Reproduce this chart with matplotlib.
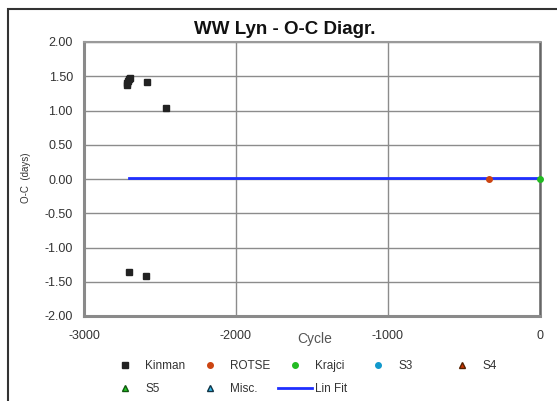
import numpy as np
import matplotlib.pyplot as plt
from matplotlib.patches import Rectangle

# =====================================================
# DATA
# =====================================================

kinman_x = [-2720, -2715, -2710, -2705, -2700, -2585, -2460, -2705, -2590]
kinman_y = [1.37, 1.40, 1.43, 1.46, 1.48, 1.42, 1.03, -1.36, -1.42]

rotse_x = [-333]
rotse_y = [0.00]

krajci_x = [0]
krajci_y = [0.00]

s3_x, s3_y = [], []
s4_x, s4_y = [], []
s5_x, s5_y = [], []
misc_x, misc_y = [], []

fit_x = [-2705, 0]
fit_y = [0.01, 0.01]

x_ticks = [-3000, -2000, -1000, 0]
y_ticks = [-2.0, -1.5, -1.0, -0.5, 0.0, 0.5, 1.0, 1.5, 2.0]

# =====================================================
# PLOT
# =====================================================

plt.rcParams['font.family'] = ['Liberation Sans', 'DejaVu Sans']
plt.rcParams['axes.unicode_minus'] = False

fig = plt.figure(figsize=(5.57, 4.01), dpi=100)
ax = fig.add_axes([84 / 557, 1 - 316 / 401, 456 / 557, 274 / 401])

h_fit, = ax.plot(fit_x, fit_y, color='#1f2fff', lw=2, label='Lin Fit', zorder=2)
h_kin, = ax.plot(kinman_x, kinman_y, 's', color='#222222', ms=4.2, ls='none', label='Kinman', zorder=3)
h_rot, = ax.plot(rotse_x, rotse_y, 'o', color='#cc4411', ms=4, ls='none', label='ROTSE', zorder=3)
h_kra, = ax.plot(krajci_x, krajci_y, 'o', color='#22bb22', ms=4, ls='none', label='Krajci',
                 zorder=3, clip_on=False)
h_s3, = ax.plot(s3_x, s3_y, 'o', color='#1199cc', ms=4, ls='none', label='S3')
h_s4, = ax.plot(s4_x, s4_y, '^', color='#cc3300', mec='#552200', ms=4.5, ls='none', label='S4')
h_s5, = ax.plot(s5_x, s5_y, '^', color='#22cc22', mec='#115511', ms=4.5, ls='none', label='S5')
h_misc, = ax.plot(misc_x, misc_y, '^', color='#33bbee', mec='#113344', ms=4.5, ls='none', label='Misc.')

ax.set_xlim(-3000, 0)
ax.set_ylim(-2, 2)
ax.set_xticks(x_ticks)
ax.set_yticks(y_ticks)
ax.set_yticklabels([f"{v:.2f}" for v in y_ticks])
ax.grid(True, color='#8c8c8c', lw=1)
ax.set_axisbelow(True)
ax.tick_params(length=0, labelsize=9, colors='#333333', pad=8)
ax.tick_params(axis='x', pad=10)

for side in ['left', 'bottom']:
    ax.spines[side].set_color('#8a8a8a')
    ax.spines[side].set_linewidth(2.2)
ax.spines['top'].set_color('#9a9a9a')
ax.spines['top'].set_linewidth(1.5)
ax.spines['right'].set_color('#666666')
ax.spines['right'].set_linewidth(1.8)

# title sits left of the plot-area centre in the original
fig.text(285 / 557, 1 - 30 / 401, "WW Lyn - O-C Diagr.", fontsize=13.5, fontweight='bold',
         ha='center', va='center', color='#111111')
fig.text(26 / 557, 1 - 178 / 401, "O-C  (days)", rotation=90, fontsize=7,
         ha='center', va='center', color='#333333')
fig.text(315 / 557, 1 - 339 / 401, "Cycle", fontsize=10, ha='center', va='center',
         color='#555555')

# legend, fixed-width columns like the original
columns = [[h_kin, h_s5], [h_rot, h_misc], [h_kra, h_fit], [h_s3], [h_s4]]
col_x = [108, 193, 278, 361, 445]
for handles, cx in zip(columns, col_x):
    fig.legend(handles=handles, loc='upper left', bbox_to_anchor=(cx / 557, 1 - 360 / 401),
               frameon=False, fontsize=8.5, handlelength=2.9, handletextpad=0.25,
               borderpad=0, borderaxespad=0, labelspacing=0.95, labelcolor='#333333')

fig.patches.append(Rectangle((8 / 557, -0.1), 1.2, (401 - 9) / 401 + 0.1,
                             transform=fig.transFigure, fill=False, ec='#333333', lw=1.5))

plt.savefig("out.png", dpi=100)
